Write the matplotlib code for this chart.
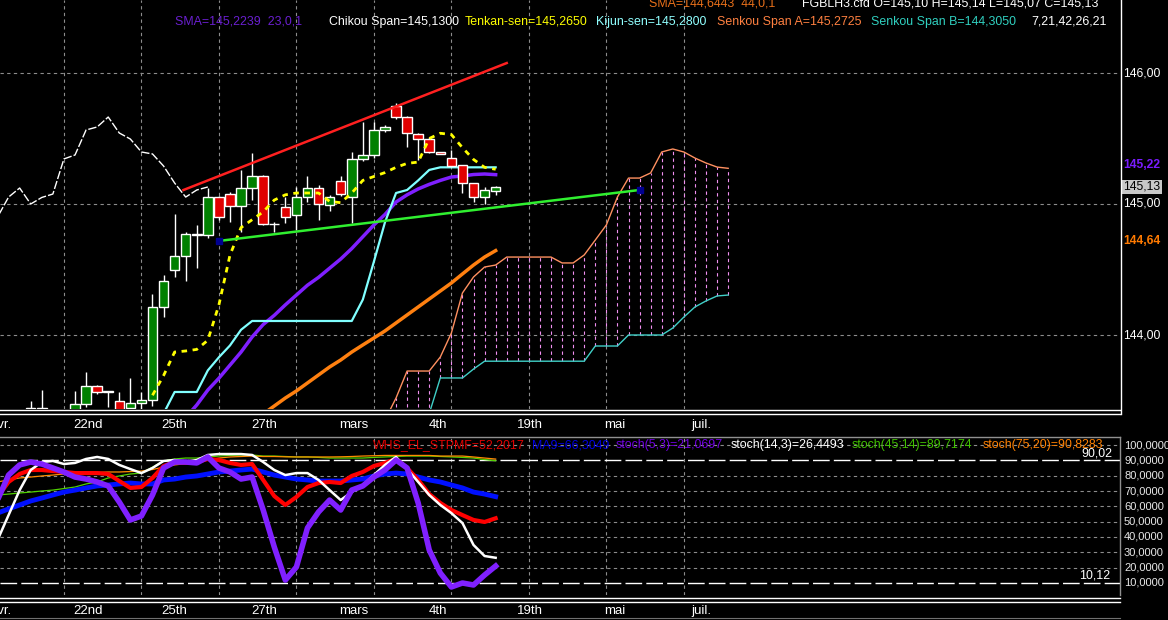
import numpy as np
import matplotlib.pyplot as plt
from matplotlib.lines import Line2D
from matplotlib.transforms import blended_transform_factory

plt.rcParams['font.family'] = ['Liberation Sans', 'DejaVu Sans']

W, H = 1168, 620

# ---------------- price panel (bar index 0 = first full candle) ----------------
first_bar = -4
opens = [143.38, 143.44, 143.40, 143.30, 143.38, 143.47, 143.61, 143.565, 143.50, 143.44,
         143.48, 143.505, 144.21, 144.50, 144.60, 144.765, 144.76, 145.05, 145.08, 144.985,
         145.12, 145.21, 144.85, 144.98, 144.916, 145.053, 145.122, 144.99, 145.176, 145.053,
         145.344, 145.374, 145.565, 145.748, 145.664, 145.534, 145.496, 145.397, 145.351, 145.298,
         145.160, 145.053, 145.10]
highs = [143.50, 143.58, 143.42, 143.38, 143.57, 143.72, 143.62, 143.57, 143.565, 143.67,
         143.565, 144.31, 144.46, 144.92, 144.79, 144.84, 145.12, 145.06, 145.09, 145.26,
         145.39, 145.22, 144.86, 145.05, 145.13, 145.214, 145.145, 145.07, 145.214, 145.397,
         145.626, 145.626, 145.60, 145.771, 145.67, 145.54, 145.51, 145.40, 145.412, 145.30,
         145.16, 145.13, 145.14]
lows = [143.30, 143.35, 143.25, 143.20, 143.33, 143.45, 143.55, 143.45, 143.38, 143.40,
        143.43, 143.46, 144.14, 144.44, 144.41, 144.51, 144.74, 144.88, 144.86, 144.79,
        145.03, 144.84, 144.79, 144.855, 144.80, 145.015, 144.878, 144.95, 145.06, 144.855,
        145.33, 145.351, 145.55, 145.65, 145.435, 145.336, 145.39, 145.38, 145.28, 145.084,
        145.015, 145.0, 145.07]
closes = [143.44, 143.42, 143.30, 143.33, 143.47, 143.61, 143.565, 143.57, 143.42, 143.48,
          143.505, 144.21, 144.41, 144.60, 144.77, 144.77, 145.05, 144.90, 144.985, 145.12,
          145.21, 144.85, 144.845, 144.90, 145.053, 145.122, 145.0, 145.05, 145.076, 145.344,
          145.374, 145.565, 145.588, 145.664, 145.542, 145.496, 145.397, 145.382, 145.290, 145.160,
          145.053, 145.107, 145.13]

tenkan_start = 7
tenkan = [143.54, 143.69, 143.87, 143.878, 143.89, 143.96, 144.23, 144.61, 144.82, 144.88,
          144.94, 145.03, 145.07, 145.084, 145.084, 145.084, 145.02, 145.01, 145.084, 145.18,
          145.21, 145.24, 145.28, 145.31, 145.32, 145.50, 145.54, 145.53, 145.43, 145.34,
          145.28, 145.265]
kijun_start = 8
kijun = [143.40, 143.565, 143.565, 143.565, 143.73, 143.83, 143.92, 144.04,
         144.107, 144.107, 144.107, 144.107, 144.107, 144.107, 144.107, 144.107, 144.107, 144.107,
         144.27, 144.56, 144.86, 145.084, 145.107, 145.18, 145.26,
         145.28, 145.28, 145.28, 145.28, 145.28, 145.28]
sma23_start = 10
sma23 = [143.37, 143.466, 143.58, 143.67, 143.77, 143.87, 143.985, 144.08, 144.15, 144.23,
         144.305, 144.38, 144.44, 144.51, 144.58, 144.66, 144.75, 144.84, 144.92, 145.015,
         145.07, 145.115, 145.15, 145.18, 145.206, 145.214, 145.225, 145.229, 145.2239]
sma44_start = 17
sma44 = [143.397, 143.458, 143.519, 143.573, 143.634, 143.695, 143.756, 143.809, 143.870, 143.924,
         143.977, 144.031, 144.092, 144.153, 144.214, 144.275, 144.336, 144.397, 144.466, 144.534,
         144.595, 144.6443]
cloud_start = 28
senkou_a = [143.35, 143.519, 143.725, 143.725, 143.725, 143.832, 144.015, 144.321, 144.443, 144.519,
            144.534, 144.595, 144.595, 144.595, 144.595, 144.595, 144.55, 144.55, 144.611, 144.725,
            144.84, 145.053, 145.198, 145.198, 145.237, 145.397, 145.42, 145.397, 145.351, 145.313,
            145.282, 145.2725]
senkou_b = [143.30, 143.30, 143.30, 143.30, 143.40, 143.672, 143.672, 143.672, 143.74, 143.80,
            143.80, 143.80, 143.80, 143.80, 143.80, 143.80, 143.80, 143.80, 143.80, 143.916,
            143.916, 143.916, 144.0, 144.0, 144.0, 144.0, 144.053, 144.137, 144.214, 144.26,
            144.298, 144.305]
chikou_shift = 26
red_trend = ([9.8, 39.0], [145.107, 146.076])
green_trend = ([13.0, 51.0], [144.718, 145.107])

# ---------------- oscillator panel, from bar -7 ----------------
osc_start = -7
whs = [66.1, 75.9, 81.1, 83.7, 83.7, 83.0, 82.4, 81.7, 81.7, 81.7,
       81.1, 76.5, 72.0, 72.6, 78.5, 86.3, 88.9, 88.3, 88.9, 90.9,
       90.2, 88.3, 87.0, 87.6, 77.2, 66.7, 60.9, 66.1, 72.6, 75.2,
       75.9, 75.2, 79.8, 82.4, 86.3, 88.3, 90.9, 85.0, 77.2, 68.0,
       62.2, 57.6, 54.3, 51.1, 49.8, 52.2]
ma9 = [55.6, 58.3, 60.9, 63.5, 65.4, 67.4, 69.3, 70.6, 72.0, 73.3,
       73.9, 74.6, 75.2, 74.6, 74.6, 77.2, 77.8, 79.1, 79.8, 81.1,
       82.4, 83.0, 83.7, 84.3, 82.4, 80.4, 79.1, 77.8, 77.2, 76.5,
       76.5, 76.5, 77.2, 77.8, 79.8, 81.1, 81.7, 81.1, 79.1, 77.2,
       75.9, 73.9, 72.0, 69.3, 68.0, 66.3]
stoch_5_3 = [64.1, 80.4, 87.0, 88.9, 87.6, 85.0, 82.4, 79.1, 77.8, 75.9,
             73.3, 62.8, 51.1, 53.7, 67.4, 85.0, 88.9, 88.9, 88.3, 92.2,
             85.0, 82.4, 77.8, 79.1, 57.6, 33.5, 11.9, 20.4, 45.9, 56.3,
             64.1, 57.6, 70.6, 73.3, 79.1, 83.7, 90.2, 85.0, 62.2, 31.5,
             16.5, 7.4, 10.0, 8.7, 15.2, 21.07]
stoch_14_3 = [38.0, 54.3, 70.6, 83.7, 88.9, 89.6, 87.6, 88.3, 90.9, 92.2,
              90.9, 87.0, 84.3, 81.7, 85.0, 89.6, 90.2, 88.9, 90.2, 93.5,
              94.1, 94.1, 94.1, 93.5, 88.9, 83.7, 80.4, 81.7, 81.7, 77.2,
              70.6, 64.1, 69.3, 73.9, 80.4, 87.0, 92.2, 84.3, 75.9, 67.4,
              60.9, 55.6, 49.1, 34.8, 27.6, 26.45]
stoch_45_14 = [67.4, 68.0, 68.7, 69.3, 70.0, 70.6, 71.6, 72.6, 74.6, 75.9,
               78.5, 79.8, 81.1, 81.7, 85.6, 89.6, 90.9, 91.5, 91.5, 92.2,
               92.8, 93.2, 93.5, 93.5, 92.8, 92.8, 92.5, 92.2, 92.2, 91.9,
               91.5, 91.5, 91.5, 91.5, 91.9, 92.2, 92.5, 92.8, 92.8, 92.8,
               92.5, 92.2, 91.9, 91.5, 90.5, 89.72]
stoch_75_20 = [75.9, 77.2, 78.5, 79.1, 79.8, 80.4, 81.1, 81.4, 81.7, 82.1,
               82.4, 82.4, 82.7, 83.0, 84.0, 85.6, 87.0, 87.9, 88.9, 90.2,
               91.5, 92.2, 92.5, 92.8, 92.5, 92.5, 92.3, 92.2, 92.2, 92.2,
               92.2, 92.3, 92.5, 92.8, 93.0, 93.2, 93.2, 93.2, 93.2, 93.2,
               92.8, 92.8, 92.8, 92.2, 91.5, 90.83]
upper_level = 90.02
lower_level = 10.12

week_grid = [-1, 6, 13, 20, 27, 34, 41, 48, 55]
date_labels = ['22nd', '25th', '27th', 'mars', '4th', '19th', 'mai', 'juil.']
date_pos = [1.2, 9.0, 17.1, 25.2, 32.8, 41.1, 48.8, 56.6]
price_ticks = [144, 145, 146]
osc_ticks = [10, 20, 30, 40, 50, 60, 70, 80, 90, 100]


def fx(px):
    return px / W


def fy(py):
    return 1 - py / H


def comma(v, nd):
    return f'{v:.{nd}f}'.replace('.', ',')


GRID = '#8c8c8c'
bar_px = 11.07
xlim = (-75 / bar_px, (1120 - 75) / bar_px)

fig = plt.figure(figsize=(W / 100, H / 100), dpi=100, facecolor='black')

# ---------- price panel ----------
ax = fig.add_axes([0, fy(409), fx(1120), 409 / H])
ax.set_facecolor('black')
ax.set_xlim(*xlim)
ax.set_ylim(146 - 336 / 131, 146 + 73 / 131)
for s in ax.spines.values():
    s.set_visible(False)
ax.set_xticks([])
ax.set_yticks([])

for p in price_ticks:
    ax.axhline(p, color=GRID, lw=0.8, ls=(0, (3, 3)), zorder=1)
for g in week_grid:
    ax.axvline(g, color=GRID, lw=0.8, ls=(0, (3, 3)), zorder=1)

# cloud
cx = np.arange(cloud_start, cloud_start + len(senkou_a))
ax.vlines(cx, senkou_b, senkou_a, color='#f090f0', lw=0.8, ls=(0, (3, 3)), zorder=2)
ax.plot(cx, senkou_a, color='#ff9060', lw=1, zorder=3)
ax.plot(cx, senkou_b, color='#40d0c8', lw=1, zorder=3)

# moving averages, kijun
ax.plot(np.arange(sma44_start, sma44_start + len(sma44)), sma44, color='#ff8010', lw=2.5, zorder=4)
ax.plot(np.arange(sma23_start, sma23_start + len(sma23)), sma23, color='#7f1fff', lw=2.5, zorder=4)
ax.plot(np.arange(kijun_start, kijun_start + len(kijun)), kijun, color='#80ffff', lw=1.6, zorder=4)

# candles
bars = np.arange(first_bar, first_bar + len(opens))
o = np.array(opens)
c = np.array(closes)
up = c >= o
ax.vlines(bars, lows, highs, color='white', lw=1, zorder=5)
ax.bar(bars, np.abs(c - o), bottom=np.minimum(o, c), width=0.86,
       color=np.where(up, '#008000', '#e00000'), edgecolor='white', linewidth=1, zorder=6)

# chikou span: closes shifted back
sel = bars >= chikou_shift - 7
ax.plot(bars[sel] - chikou_shift, c[sel], color='white', lw=1, ls=(0, (6, 1.5)), zorder=5)

# tenkan
ax.plot(np.arange(tenkan_start, tenkan_start + len(tenkan)), tenkan,
        color='#ffff00', lw=2, ls=(0, (2, 2)), zorder=7)

# trend lines
ax.plot(*red_trend, color='#ff2020', lw=1.8, zorder=8)
ax.plot(*green_trend, color='#30f030', lw=1.8, zorder=8)
ax.plot(*green_trend, 's', color='#000090', ms=5, zorder=9)

# right price scale
tr = blended_transform_factory(ax.transAxes, ax.transData)
for p in price_ticks:
    ax.text(1.0027, p, comma(p, 2), transform=tr, color='white', fontsize=8.7,
            va='center', ha='left', clip_on=False)
ax.annotate(comma(sma23[-1], 2), (1.0027, sma23[-1]), xycoords=tr, xytext=(0, 7),
            textcoords='offset points', color='#7a1cff', fontsize=8.7, fontweight='bold',
            va='center', ha='left', annotation_clip=False)
ax.annotate(comma(sma44[-1], 2), (1.0027, sma44[-1]), xycoords=tr, xytext=(0, 7),
            textcoords='offset points', color='#ff7a00', fontsize=8.7, fontweight='bold',
            va='center', ha='left', annotation_clip=False)
ax.text(1.0027, closes[-1], comma(closes[-1], 2), transform=tr, color='black', fontsize=8.7,
        va='center', ha='left', clip_on=False,
        bbox=dict(boxstyle='square,pad=0.12', fc='#c8c8c8', ec='none'))

# ---------- oscillator panel ----------
axb = fig.add_axes([0, fy(595), fx(1120), (595 - 437) / H])
axb.set_facecolor('black')
axb.set_xlim(*xlim)
axb.set_ylim(10 - 12 / 1.533, 100 + 8 / 1.533)
axb.set_xticks([])
axb.set_yticks([])
for side in ['left', 'bottom']:
    axb.spines[side].set_visible(False)
for side in ['top', 'right']:
    axb.spines[side].set_color('#909090')
    axb.spines[side].set_linewidth(1)

for v in [20, 30, 40, 50, 60, 70, 80, 100]:
    axb.axhline(v, color=GRID, lw=0.8, ls=(0, (3, 3)), zorder=1)
for g in week_grid:
    axb.axvline(g, color=GRID, lw=0.8, ls=(0, (3, 3)), zorder=1)
axb.axhline(upper_level, color='white', lw=1, ls=(0, (12, 3)), zorder=2)
axb.axhline(lower_level, color='white', lw=1, ls=(0, (12, 3)), zorder=2)

ox = np.arange(osc_start, osc_start + len(whs))
axb.plot(ox, stoch_45_14, color='#50d000', lw=0.9, zorder=3)
axb.plot(ox, stoch_75_20, color='#ff8c00', lw=0.9, zorder=3)
axb.plot(ox, ma9, color='#0010ff', lw=3.5, zorder=4)
axb.plot(ox, whs, color='#ff0000', lw=3, zorder=5)
axb.plot(ox, stoch_14_3, color='white', lw=1.8, zorder=6)
axb.plot(ox, stoch_5_3, color='#8020ff', lw=4, zorder=7)

trb = blended_transform_factory(axb.transAxes, axb.transData)
for v in osc_ticks:
    axb.text(1.0036, v, comma(v, 4), transform=trb, color='#e8e8e8', fontsize=8,
             va='center', ha='left', clip_on=False)

# ---------- frame lines ----------
for yy in [409.5, 413.5, 598, 602]:
    fig.add_artist(Line2D([0, fx(1120)], [fy(yy), fy(yy)], color='white', lw=1))
fig.add_artist(Line2D([fx(1120.5), fx(1120.5)], [fy(0), fy(413.5)], color='white', lw=1))
fig.add_artist(Line2D([0, fx(1120)], [fy(618), fy(618)], color='#707070', lw=0.8))

# ---------- date labels ----------
trx = blended_transform_factory(ax.transData, ax.transAxes)
trxb = blended_transform_factory(axb.transData, axb.transAxes)
for pos, lab in zip(date_pos, date_labels):
    ax.text(pos, (409 - 425) / 409, lab, transform=trx, color='white', fontsize=9.5,
            ha='center', va='center', clip_on=False)
    axb.text(pos, (595 - 611) / 158, lab, transform=trxb, color='white', fontsize=9.5,
             ha='center', va='center', clip_on=False)
# first month label runs off the left edge, as in the source chart
fig.text(fx(12), fy(425), 'avr.', color='white', fontsize=9.5, ha='right', va='center')
fig.text(fx(12), fy(611), 'avr.', color='white', fontsize=9.5, ha='right', va='center')

# ---------- header texts ----------
hdr1 = [(649, 'SMA=144,6443  44,0,1', '#e8701a'),
        (802, 'FGBLH3.cfd O=145,10 H=145,14 L=145,07 C=145,13', 'white')]
hdr2 = [(175, 'SMA=145,2239  23,0,1', '#6a1fd0'),
        (329, 'Chikou Span=145,1300', 'white'),
        (465, 'Tenkan-sen=145,2650', '#ffff00'),
        (596, 'Kijun-sen=145,2800', '#90ffff'),
        (717, 'Senkou Span A=145,2725', '#ff8040'),
        (871, 'Senkou Span B=144,3050', '#30d0c0'),
        (1031, '7,21,42,26,21', 'white')]
for x0, s, col in hdr1:
    fig.text(fx(x0), fy(4), s, color=col, fontsize=8.9, ha='left', va='center')
for x0, s, col in hdr2:
    fig.text(fx(x0), fy(22), s, color=col, fontsize=8.9, ha='left', va='center')

leg = [(373, 'WHS_EL_STPMF=52,2017', '#e00000'),
       (532, 'MA9=66,3049', '#0000e0'),
       (616, 'stoch(5,3)=21,0697', '#7000e0'),
       (731, 'stoch(14,3)=26,4493', 'white'),
       (852, 'stoch(45;14)=89,7174', '#40c000'),
       (983, 'stoch(75,20)=90,8283', '#ff8000')]
for x0, s, col in leg:
    fig.text(fx(x0), fy(445), s, color=col, fontsize=8.9, ha='left', va='center')
fig.text(fx(1112), fy(453), comma(upper_level, 2), color='white', fontsize=8.9, ha='right', va='center')
fig.text(fx(1110), fy(576), comma(lower_level, 2), color='white', fontsize=8.9, ha='right', va='center')

fig.savefig('out.png', dpi=100, facecolor='black')
